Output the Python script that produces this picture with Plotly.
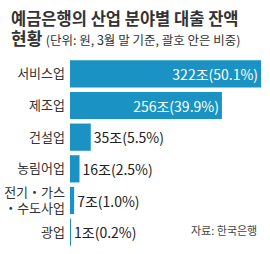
import plotly.graph_objects as go

categories = ["서비스업", "제조업", "건설업", "농림어업", "전기・가스<br>・수도사업", "광업"]
values = [322, 256, 35, 16, 7, 1]
shares = [50.1, 39.9, 5.5, 2.5, 1.0, 0.2]
labels = [f"{v}조({s:.1f}%)" for v, s in zip(values, shares)]
positions = ["inside", "inside", "outside", "outside", "outside", "outside"]

FONT = "Noto Sans CJK KR"
BLUE = "#1a93c4"

fig = go.Figure(go.Bar(
    x=values, y=categories, orientation="h",
    marker=dict(color=BLUE, line=dict(width=0)),
    text=labels, textposition=positions,
    insidetextanchor="end",
    insidetextfont=dict(color="white", size=14, family=FONT),
    outsidetextfont=dict(color="#222", size=14, family=FONT),
    cliponaxis=False,
    hoverinfo="skip",
))

title_html = (
    "<span style='font-size:16.5px'><b>예금은행의 산업 분야별 대출 잔액</b></span><br>"
    "<span style='font-size:17px'><b>현황</b></span> "
    "<span style='font-size:12.5px'>(단위: 원, 3월 말 기준, 괄호 안은 비중)</span>"
)

fig.update_layout(
    width=270, height=254,
    margin=dict(l=66, r=4, t=58, b=6),
    paper_bgcolor="white", plot_bgcolor="white",
    bargap=0.14,
    showlegend=False,
    font=dict(family=FONT, color="#333"),
    xaxis=dict(range=[0, 322 * 200 / 195], visible=False, fixedrange=True),
    yaxis=dict(autorange="reversed", showline=False, showgrid=False, zeroline=False,
               ticks="", ticklabelstandoff=4,
               tickfont=dict(size=13, color="#333", family=FONT), fixedrange=True),
    annotations=[
        dict(text=title_html, xref="paper", yref="paper", align="left",
             x=0, xshift=-66 + 5, y=1, yshift=58 - 4, xanchor="left", yanchor="top",
             showarrow=False, font=dict(size=15, color="#333", family=FONT)),
        dict(text="자료: 한국은행", xref="paper", yref="paper",
             x=1, xshift=-7, y=0, yshift=8, xanchor="right", yanchor="bottom",
             showarrow=False, font=dict(size=11, color="#444", family=FONT)),
    ],
)

fig.write_html("out.html")
